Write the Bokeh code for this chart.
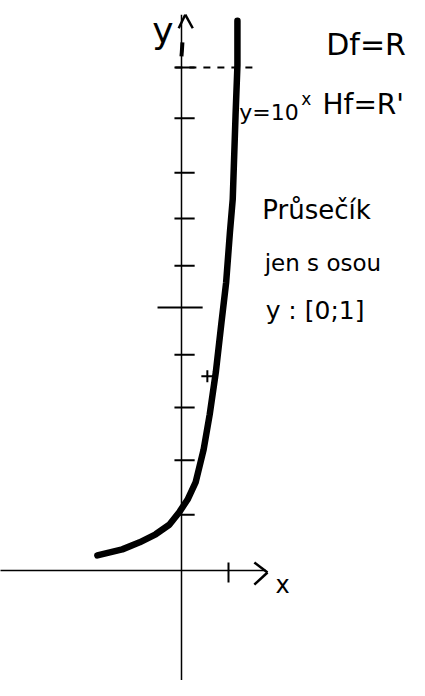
from bokeh.plotting import figure
from bokeh.embed import file_html
from bokeh.resources import INLINE
from bokeh.core.properties import value

# ---- data ----
curve_x = [-1.79, -1.26, -0.89, -0.55, -0.26, -0.04, 0.13, 0.30, 0.47, 0.60,
           0.73, 0.85, 0.95, 1.03, 1.09, 1.15, 1.19, 1.19]
curve_y = [0.30, 0.42, 0.56, 0.72, 0.91, 1.17, 1.41, 1.75, 2.40, 3.10,
           3.94, 4.93, 5.73, 6.72, 7.38, 9.05, 10.04, 10.93]
y_ticks = [1.11, 2.19, 3.24, 4.29, 5.23, 6.06, 7.00, 7.91, 8.99, 10.0]
x_ticks = [1.0]
mark_x = [0.55]
mark_y = [3.86]
guide_y = 10.0
guide_x_end = 1.55

X0, X1 = -3.851, 4.851
Y0, Y1 = -2.187, 11.332

p = figure(width=409, height=680, x_range=(X0, X1), y_range=(Y0, Y1),
           output_backend="svg", toolbar_location=None, min_border=0,
           x_axis_location=None, y_axis_location=None)
p.outline_line_color = None
p.xgrid.visible = False
p.ygrid.visible = False
p.background_fill_color = "white"
p.border_fill_color = "white"

ink = "black"

# axes
p.segment(x0=[0], y0=[Y0 - 1], x1=[0], y1=[11.05], line_color=ink, line_width=1.5)
p.segment(x0=[X0 - 1], y0=[0], x1=[1.80], y1=[0], line_color=ink, line_width=1.5)
# y arrow head
p.segment(x0=[0.08, 0.08], y0=[11.05, 11.05], x1=[-0.06, 0.24], y1=[10.78, 10.78],
          line_color=ink, line_width=2.5)
p.segment(x0=[0.0], y0=[10.22], x1=[0.02], y1=[10.50], line_color=ink, line_width=4)
# x arrow head
p.segment(x0=[1.83, 1.83], y0=[-0.04, -0.04], x1=[1.55, 1.55], y1=[0.16, -0.28],
          line_color=ink, line_width=2.5)

# ticks
ylen_l = [-0.15] * len(y_ticks)
ylen_r = [0.28] * len(y_ticks)
ylen_l[4], ylen_r[4] = -0.51, 0.45
p.segment(x0=ylen_l, y0=y_ticks, x1=ylen_r, y1=y_ticks, line_color=ink, line_width=2)
p.segment(x0=x_ticks, y0=[0.16] * len(x_ticks), x1=x_ticks, y1=[-0.24] * len(x_ticks),
          line_color=ink, line_width=2)

# dashed guide at y = 10
p.segment(x0=[-0.13], y0=[guide_y], x1=[guide_x_end], y1=[guide_y],
          line_color=ink, line_width=2, line_dash="7 7")

# curve
p.line(curve_x, curve_y, line_color=ink, line_width=6.5, line_cap="round", line_join="round")
p.scatter(mark_x, mark_y, marker="cross", size=12, line_color=ink, line_width=2)

font = value("DejaVu Sans")
def txt(x, y, s, size):
    p.text(x=[x], y=[y], text=[s], text_font=font, text_font_size=f"{size}px",
           text_color=ink, text_baseline="alphabetic", text_align="left")

txt(-0.62, 10.74, "y", 36)
txt(3.08, 10.46, "Df=R", 30)
txt(3.00, 9.26, "Hf=R'", 28)
txt(1.23, 9.11, "y=10", 22)
txt(2.55, 9.38, "x", 17)
txt(1.72, 7.16, "Průsečík", 26)
txt(1.77, 6.12, "jen s osou", 23)
txt(1.79, 5.17, "y : [0;1]", 25)
txt(2.00, -0.28, "x", 24)

open("out.html", "w").write(file_html(p, INLINE))
